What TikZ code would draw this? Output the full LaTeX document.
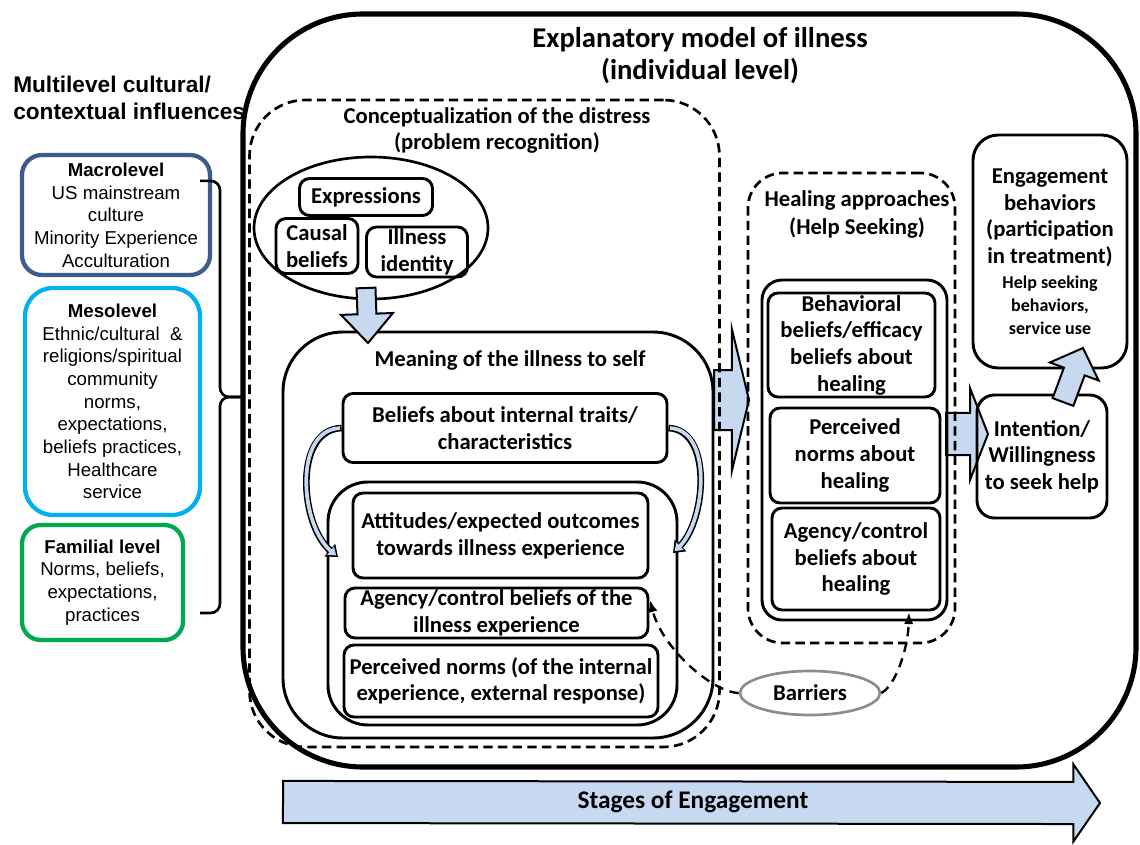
\documentclass[tikz,border=0pt]{standalone}
\usepackage{fontspec}
\setmainfont{Carlito}
\newfontfamily\arialfont{Liberation Sans}
\usetikzlibrary{calc,arrows.meta,shapes.geometric}

\definecolor{macroblue}{RGB}{59,92,140}
\definecolor{mesoblue}{RGB}{0,176,240}
\definecolor{famgreen}{RGB}{0,168,80}
\definecolor{arrowblue}{RGB}{198,217,241}
\definecolor{bargray}{RGB}{140,140,140}

\newcommand{\bodyfont}{\bfseries\fontsize{17}{20}\selectfont}
\newcommand{\smtxt}[1]{{\fontsize{13.5}{16}\selectfont #1}}
\newcommand{\blockarrow}[5]{% tail, tip, half shaft, half head, head length
  \coordinate (bh) at ($(#2)!#5!(#1)$);
  \filldraw[blockarrow] ($(#1)!#3!90:(#2)$) -- ($(bh)!#3!90:(#2)$) -- ($(bh)!#4!90:(#2)$) -- (#2)
    -- ($(bh)!#4!-90:(#2)$) -- ($(bh)!#3!-90:(#2)$) -- ($(#1)!#3!-90:(#2)$) -- cycle;}

\tikzset{
  px/.style 2 args={minimum width=#1*0.75pt, minimum height=#2*0.75pt},
  box/.style={draw, line width=2.2pt, rounded corners=7.5pt, align=center, inner sep=0pt, font=\bodyfont},
  dashbox/.style={draw, line width=2pt, dash pattern=on 7pt off 4pt, inner sep=0pt},
  levelbox/.style={draw=#1, line width=3.2pt, align=center, inner sep=0pt, font=\arialfont\fontsize{14}{17}\selectfont},
  blockarrow/.style={draw=black, fill=arrowblue, line width=1.5pt, line join=miter},
  titletext/.style={align=center, inner sep=0pt, font=\bodyfont},
  curveout/.style={line width=5pt, -{Triangle[length=8pt,width=12pt]}},
  curvein/.style={arrowblue, line width=2.8pt, shorten <=1.1pt, shorten >=1.8pt, -{Triangle[length=5.5pt,width=7.5pt]}},
  barrier/.style={line width=1.8pt, dash pattern=on 7pt off 5pt, -{Latex[length=9pt,width=7pt]}},
}

\begin{document}
\begin{tikzpicture}[x=0.75pt,y=-0.75pt]
  \fill[white] (0,0) rectangle (1140,845);
  \useasboundingbox (0,0) rectangle (1140,845);

  % individual level frame
  \node[draw, line width=3.8pt, rounded corners=90pt, px={893}{753}] (model) at (689.5,390.5) {};
  \node[titletext, font=\bfseries\fontsize{21.5}{24}\selectfont] (title) at (700,56) {Explanatory model of illness\\(individual level)};
  \node[anchor=west, align=left, inner sep=0pt, font=\arialfont\bfseries\fontsize{17}{20.3}\selectfont] (influences) at (13,98) {Multilevel cultural/\\contextual influences};

  % cultural levels
  \node[levelbox=macroblue, rounded corners=15pt, px={188}{120}] (macro) at (116,215)
    {\textbf{Macrolevel}\\US mainstream\\culture\\Minority Experience\\Acculturation};
  \node[levelbox=mesoblue, rounded corners=21pt, px={175}{227}] (meso) at (112.5,401.5)
    {\textbf{Mesolevel}\\Ethnic/cultural \ \&\\religions/spiritual\\community\\norms,\\expectations,\\beliefs practices,\\Healthcare\\service};
  \node[levelbox=famgreen, rounded corners=14pt, px={161}{115}] (familial) at (102.5,582.5)
    {\textbf{Familial level}\\Norms, beliefs,\\expectations,\\practices};

  \coordinate (bt) at ($(macro.north east)+(-12,28)$);
  \coordinate (bb) at ($(familial.east)+(15,30.5)$);
  \coordinate (bm) at (243,397);
  \draw[line width=2pt, rounded corners=7pt] (bt) -| (220,397) -- (bm);% upper half of brace
  \draw[line width=2pt, rounded corners=7pt] (bm) -- (220,397) |- (bb);% lower half

  % stage arrows under the dashed frames
  \coordinate (ctail) at (714,400);
  \coordinate (ctip) at (749,400);
  \blockarrow{ctail}{ctip}{22.5pt}{53pt}{12.8pt}
  \coordinate (htail) at (946,434);
  \coordinate (htip) at (988,434);
  \blockarrow{htail}{htip}{15.8pt}{34.5pt}{13.5pt}

  % problem recognition
  \node[dashbox, rounded corners=42pt, px={470}{647}] (concept) at (484.5,423.5) {};
  \node[titletext, font=\bfseries\fontsize{17}{19.5}\selectfont] (concepttitle) at (497,130) {Conceptualization of the distress\\(problem recognition)};
  \node[ellipse, draw, line width=2pt, inner sep=0pt, px={234}{142}] (causes) at (371,228) {};
  \node[box, px={133}{37}] (expressions) at (366,197) {Expressions};
  \node[box, px={82}{55}] (causal) at (317,246) {Causal\\beliefs};
  \node[box, px={101}{50}] (identity) at (417,252) {Illness\\identity};

  \node[draw, line width=2.2pt, rounded corners=45pt, px={430}{406}] (meaning) at (498,535) {};
  \node[titletext] (meaningtitle) at (510,360) {Meaning of the illness to self};
  \node[box, px={324}{69}] (traits) at (505,428) {Beliefs about internal traits/\\characteristics};
  \node[draw, line width=2.2pt, rounded corners=30pt, px={349}{243}] (inner) at (502.5,603.5) {};
  \node[box, px={295}{85}] (attitudes) at (500.5,535.5) {Attitudes/expected outcomes\\towards illness experience};
  \node[box, px={303}{50}] (agency) at (496.5,613) {Agency/control beliefs of the\\illness experience};
  \node[box, px={314}{72}] (norms) at (501,681) {Perceived norms (of the internal\\experience, external response)};

  \coordinate (dtail) at (366,288);
  \coordinate (dtip) at (368,343);
  \blockarrow{dtail}{dtip}{7.1pt}{19.5pt}{21.8pt}

  \coordinate (lend) at (338,557);
  \coordinate (rend) at (673,553);
  \draw[curveout] (traits.west) .. controls (293,430) and (300,525) .. (lend);
  \draw[curvein] (traits.west) .. controls (293,430) and (300,525) .. (lend);
  \draw[curveout] (traits.east) .. controls (713,430) and (706,520) .. (rend);
  \draw[curvein] (traits.east) .. controls (713,430) and (706,520) .. (rend);

  % help seeking
  \node[dashbox, rounded corners=26pt, px={207}{470}] (healing) at (851.5,408) {};
  \node[titletext, font=\bfseries\fontsize{17}{21}\selectfont] (healingtitle) at (857,214) {Healing approaches\\(Help Seeking)};
  \node[draw, line width=2.2pt, rounded corners=15pt, px={185}{340}] (healinner) at (854.5,450) {};
  \node[box, px={167}{104}] (behavioral) at (851.5,345) {Behavioral\\beliefs/efficacy\\beliefs about\\healing};
  \node[box, px={170}{95}] (normsh) at (855,455.5) {Perceived\\norms about\\healing};
  \node[box, px={168}{102}] (agencyh) at (856,559) {Agency/control\\beliefs about\\healing};

  % engagement
  \node[box, rounded corners=13pt, px={130}{123}] (intention) at (1042,456.5) {Intention/\\Willingness\\to seek help};
  \node[box, rounded corners=19pt, px={154}{233}] (engagement) at (1050,251.5)
    {Engagement\\behaviors\\(participation\\in treatment)\\[-1pt]\smtxt{Help seeking}\\[-3pt]\smtxt{behaviors,}\\[-3pt]\smtxt{service use}};
  \coordinate (itail) at (1063,402);
  \coordinate (itip) at (1083,348);
  \blockarrow{itail}{itip}{8.3pt}{19.5pt}{18.8pt}

  % barriers
  \node[ellipse, draw=bargray, line width=2pt, inner sep=0pt, px={140}{44}, font=\bodyfont] (barriers) at (810,693) {Barriers};
  \coordinate (atip) at (650,600);
  \coordinate (btip) at (909,612);
  \draw[barrier] (barriers.west) .. controls (712,692) and (662,648) .. (atip);
  \draw[barrier] (barriers.east) .. controls (895,686) and (908,650) .. (btip);

  \coordinate (stail) at (283,802);
  \coordinate (stip) at (1100,803);
  \blockarrow{stail}{stip}{15.8pt}{29pt}{20pt}
  \node[font=\bfseries\fontsize{19}{22}\selectfont] (stages) at (693,802) {Stages of Engagement};
\end{tikzpicture}
\end{document}
